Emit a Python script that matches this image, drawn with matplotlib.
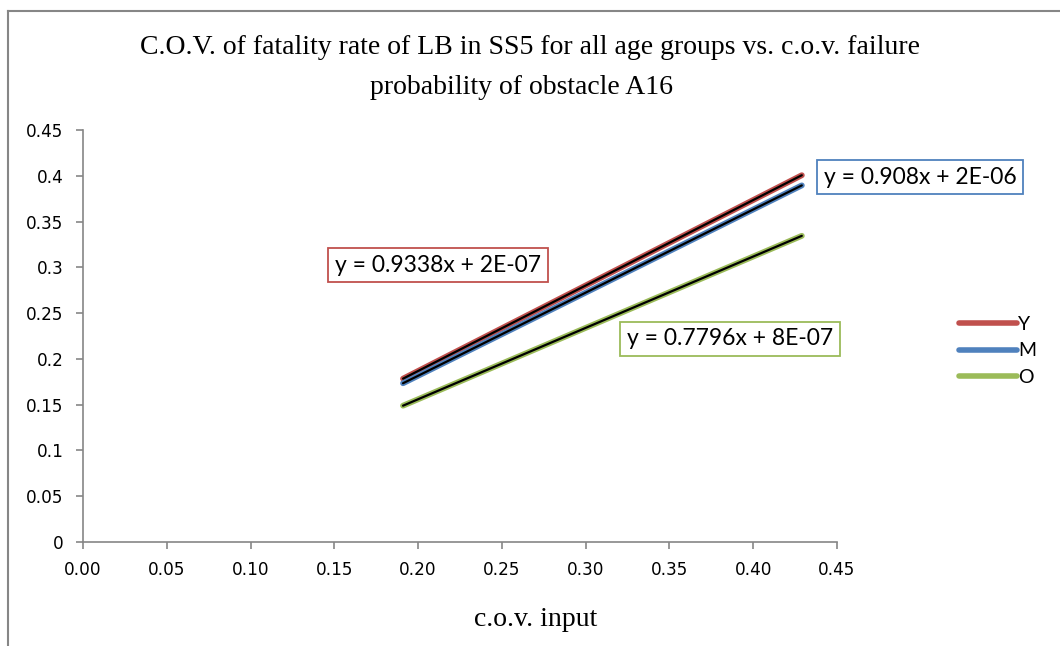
import matplotlib
matplotlib.use("Agg")
import matplotlib.pyplot as plt
from matplotlib.lines import Line2D

# Input coefficient of variation (end points of each fitted series)
cov_input = [0.191, 0.429]

# C.O.V. of fatality rate per age group
series_names = ["Y", "M", "O"]
fatality_Y = [0.1784, 0.4006]
fatality_M = [0.1734, 0.3895]
fatality_O = [0.1489, 0.3344]

equations = ["y = 0.9338x + 2E-07", "y = 0.908x + 2E-06", "y = 0.7796x + 8E-07"]

x_ticks = [0.00, 0.05, 0.10, 0.15, 0.20, 0.25, 0.30, 0.35, 0.40, 0.45]
y_ticks = [0, 0.05, 0.1, 0.15, 0.2, 0.25, 0.3, 0.35, 0.4, 0.45]

colors = ["#C0504D", "#4F81BD", "#9BBB59"]
gray = "#868686"
sans = ["Lato", "DejaVu Sans"]
tick_font = ["DejaVu Sans"]
serif = ["Liberation Serif", "DejaVu Serif"]

W, H = 1060, 646
fig = plt.figure(figsize=(W / 100, H / 100), dpi=100)
ax = fig.add_axes([83 / W, 1 - 542 / H, (837 - 83) / W, (542 - 130) / H])

for vals, col in zip([fatality_Y, fatality_M, fatality_O], colors):
    ax.plot(cov_input, vals, color=col, lw=4.2, solid_capstyle="round", zorder=2)
    ax.plot(cov_input, vals, color="black", lw=1.6, solid_capstyle="round", zorder=3)

ax.set_xlim(0, 0.45)
ax.set_ylim(0, 0.45)
ax.set_xticks(x_ticks)
ax.set_xticklabels([f"{v:.2f}" for v in x_ticks], fontsize=12.2, family=tick_font)
ax.set_yticks(y_ticks)
ax.set_yticklabels([f"{v:g}" for v in y_ticks], fontsize=12.2, family=tick_font)
ax.tick_params(axis="both", direction="out", length=5, width=1.2, color=gray)
ax.tick_params(axis="y", pad=9)
ax.tick_params(axis="x", pad=9)
for side in ["top", "right"]:
    ax.spines[side].set_visible(False)
for side in ["left", "bottom"]:
    ax.spines[side].set_color(gray)
    ax.spines[side].set_linewidth(1.2)

# Equation boxes for the trendlines
box_pos = [(438, 265), (920, 177), (730, 339)]
for (bx, by), eq, col in zip(box_pos, equations, colors):
    fig.text(bx / W, 1 - by / H, eq, ha="center", va="center", fontsize=16.5,
             family=sans,
             bbox=dict(boxstyle="square,pad=0.3", fc="white", ec=col, lw=1.3))

# Title and axis label
fig.text(530 / W, 1 - 48 / H, "C.O.V. of fatality rate of LB in SS5 for all age groups vs. c.o.v. failure",
         ha="center", va="center", fontsize=20, family=serif)
fig.text(521 / W, 1 - 88 / H, "probability of obstacle A16",
         ha="center", va="center", fontsize=20, family=serif)
fig.text(536 / W, 1 - 620 / H, "c.o.v. input", ha="center", va="center",
         fontsize=20, family=serif)

# Legend
handles = [Line2D([0], [0], color=c, lw=4, solid_capstyle="round") for c in colors]
fig.legend(handles, series_names, loc="center left",
           bbox_to_anchor=(941 / W, 1 - 351 / H), frameon=False,
           prop={"family": sans, "size": 14},
           handlelength=3.0, handletextpad=0.05, labelspacing=0.5)

# Chart area border
fig.add_artist(Line2D([8 / W, 8 / W], [0, 1 - 10.5 / H], color=gray, lw=1.5))
fig.add_artist(Line2D([8 / W, 1], [1 - 10.5 / H, 1 - 10.5 / H], color=gray, lw=1.5))

fig.savefig("out.png", dpi=100)
